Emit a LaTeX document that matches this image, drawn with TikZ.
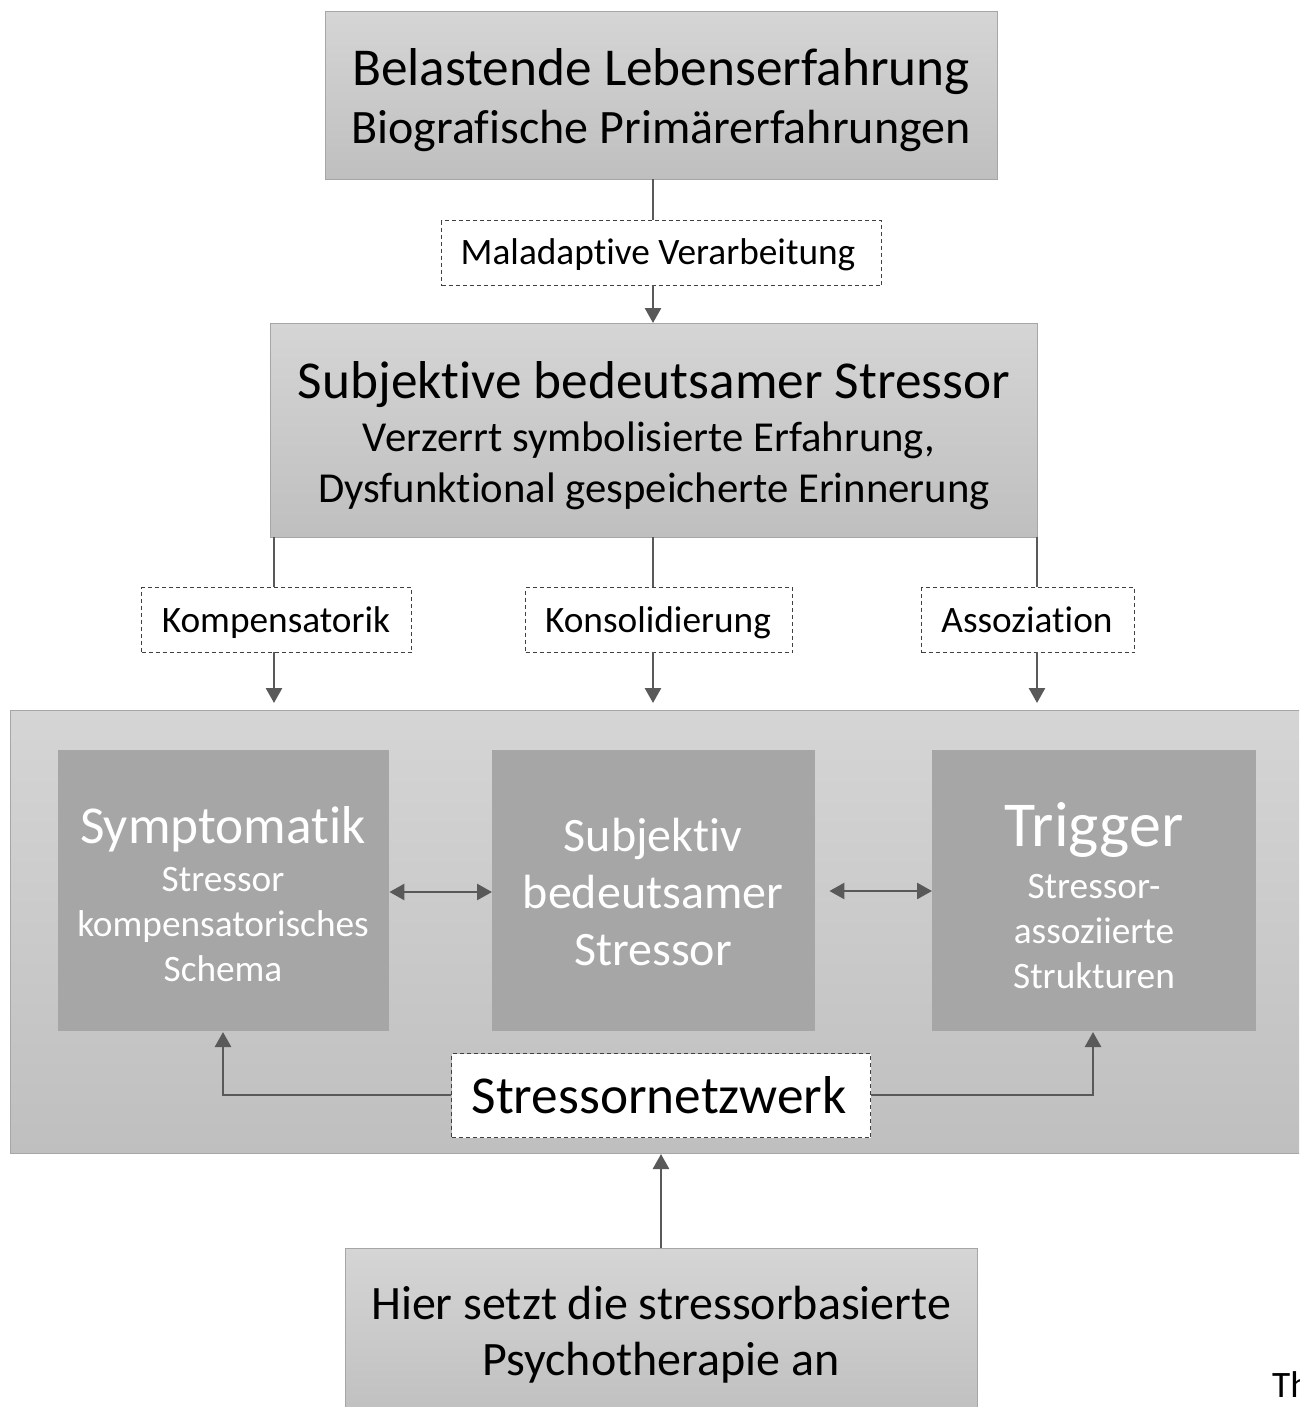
\documentclass[tikz,border=0pt]{standalone}
\usepackage{fontspec}
\setmainfont{Carlito}[Ligatures={NoCommon},RawFeature={-liga;-clig;-calt;-dlig}]
\usetikzlibrary{arrows.meta,calc}
\definecolor{gtop}{RGB}{213,213,213}
\definecolor{gbot}{RGB}{191,191,191}
\definecolor{gborder}{RGB}{166,166,166}
\definecolor{inner}{RGB}{166,166,166}
\definecolor{arr}{RGB}{89,89,89}
\definecolor{dashc}{RGB}{64,64,64}
\newcommand{\fsA}{\fontsize{37.3}{44}\selectfont}
\newcommand{\fsB}{\fontsize{42.7}{50}\selectfont}
\newcommand{\fsC}{\fontsize{48}{56}\selectfont}
\newcommand{\fsD}{\fontsize{53.3}{62}\selectfont}
\newcommand{\fsE}{\fontsize{64}{72}\selectfont}
\newcommand{\nt}{t\kern0pt}
\tikzset{
  graybox/.style={draw=gborder,line width=1.2pt,top color=gtop,bottom color=gbot,
    inner sep=0pt,anchor=north west},
  innerbox/.style={fill=inner,draw=none,inner sep=0pt,anchor=north west},
  dashbox/.style={draw=dashc,line width=1.2pt,dash pattern=on 4pt off 3pt,fill=white,
    inner sep=0pt,anchor=north west},
  txt/.style={inner sep=0pt,anchor=base,text=black},
  wtxt/.style={inner sep=0pt,anchor=base,text=white},
  conn/.style={draw=arr,line width=2.6pt},
  arrowc/.style={conn,-{Triangle[length=15pt,width=16pt]}},
  dblarrow/.style={conn,{Triangle[length=15pt,width=16pt]}-{Triangle[length=15pt,width=16pt]}},
}
\begin{document}
\begin{tikzpicture}[x=1pt,y=-1pt]
\useasboundingbox (0,0) rectangle (1299,1407);
\clip (0,0) rectangle (1299,1407);
\fill[white] (0,0) rectangle (1299,1407);

% top box
\node[graybox,minimum width=672pt,minimum height=168pt] (top) at (325,11) {};
\node[txt] (top1) at (661,86) {\fsD Belastende Lebenserfahrung};
\node[txt] (top2) at (661,144) {\fsC Biografische Primärerfahrungen};

% maladaptive
\node[dashbox,minimum width=440pt,minimum height=65pt] (mal) at (441,220) {};
\node[txt] (malt) at (658,264) {\fsA Maladap\nt ive Verarbeitung};

% middle box
\node[graybox,minimum width=767pt,minimum height=214pt] (mid) at (270,323) {};
\node[txt] (mid1) at (654,398) {\fsD Subjek\nt ive bedeutsamer Stressor};
\node[txt] (mid2) at (649,451) {\fsB Verzerrt symbolisierte Erfahrung,};
\node[txt] (mid3) at (654,502) {\fsB Dysfunk\nt ional gespeicherte Erinnerung};

\coordinate (c1) at (653,179);
\coordinate (c2) at (653,220);
\draw[conn] (c1) -- (c2);
\draw[arrowc] (653,285) -- (653,323);

% dashed labels
\node[dashbox,minimum width=270pt,minimum height=65pt] (komp) at (141,587) {};
\node[txt] (kompt) at (276,632) {\fsA Kompensatorik};
\node[dashbox,minimum width=267pt,minimum height=65pt] (kons) at (525,587) {};
\node[txt] (konst) at (658,632) {\fsA Konsolidierung};
\node[dashbox,minimum width=213pt,minimum height=65pt] (asso) at (921,587) {};
\node[txt] (assot) at (1027,632) {\fsA Assozia\nt ion};

% container
\node[graybox,minimum width=1310pt,minimum height=443pt] (cont) at (10,710) {};

\draw[conn] (274,537) -- (274,587);
\draw[conn] (653,537) -- (653,587);
\draw[conn] (1037,537) -- (1037,587);
\draw[arrowc] (274,652) -- (274,703);
\draw[arrowc] (653,652) -- (653,703);
\draw[arrowc] (1037,652) -- (1037,703);

% inner boxes
\node[innerbox,minimum width=331pt,minimum height=281pt] (symp) at (58,750) {};
\node[innerbox,minimum width=323pt,minimum height=281pt] (core) at (492,750) {};
\node[innerbox,minimum width=324pt,minimum height=281pt] (trig) at (932,750) {};

\node[wtxt] (s1) at (223,843) {\fsD Symptomatik};
\node[wtxt] (s2) at (223,891) {\fsA Stressor};
\node[wtxt] (s3) at (223,936) {\fsA kompensatorisches};
\node[wtxt] (s4) at (223,981) {\fsA Schema};

\node[wtxt] (m1) at (653,851) {\fsC Subjek\nt iv};
\node[wtxt] (m2) at (653,908) {\fsC bedeutsamer};
\node[wtxt] (m3) at (653,965) {\fsC Stressor};

\node[wtxt] (t1) at (1094,846) {\fsE Trigger};
\node[wtxt] (t2) at (1094,898) {\fsA Stressor-};
\node[wtxt] (t3) at (1094,943) {\fsA assoziierte};
\node[wtxt] (t4) at (1094,988) {\fsA Strukturen};

\draw[dblarrow] (symp.east |- 0,892) -- (core.west |- 0,892);
\draw[dblarrow] ([xshift=14pt]core.east |- 0,891) -- (trig.west |- 0,891);

% Stressornetzwerk
\node[dashbox,minimum width=419pt,minimum height=84pt] (netz) at (451,1053) {};
\node[txt] (netzt) at (659,1113) {\fsD Stressornetzwerk};
\draw[arrowc] (netz.west |- 0,1095) -| (223,1032);
\draw[arrowc] (netz.east |- 0,1095) -| (1093,1032);

% bottom box
\node[graybox,minimum width=632pt,minimum height=172pt] (bot) at (345,1248) {};
\node[txt] (b1) at (661,1319) {\fsC Hier setzt die stressorbasierte};
\node[txt] (b2) at (661,1375) {\fsC Psychotherapie an};
\draw[arrowc] (661,1248) -- (661,1154);

\node[anchor=base west,inner sep=0pt] (th) at (1272,1397) {\fsA Th};
\end{tikzpicture}
\end{document}
